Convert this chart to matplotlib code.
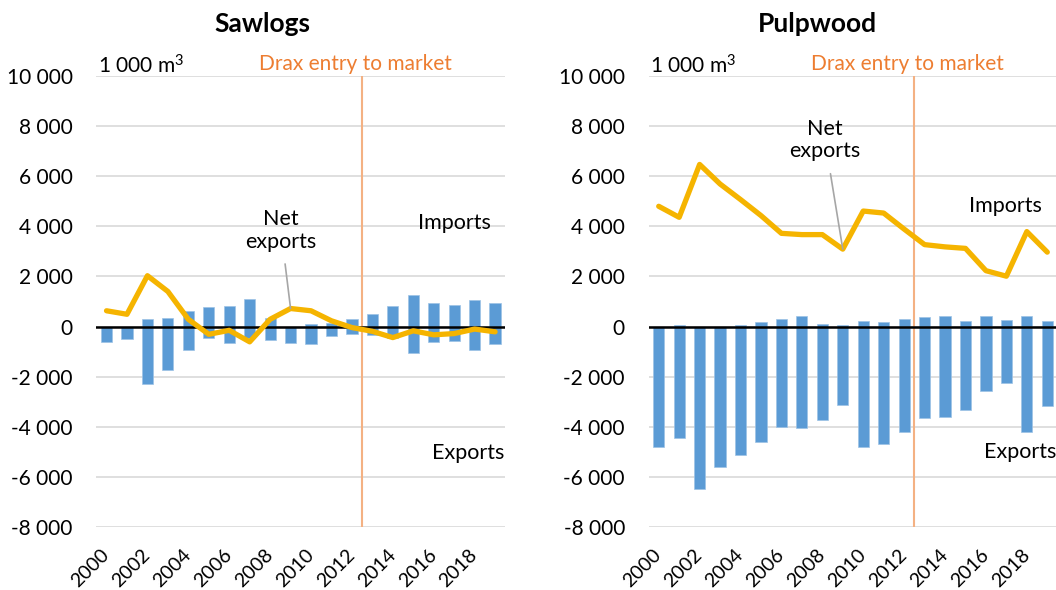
import numpy as np
import matplotlib
matplotlib.use("Agg")
import matplotlib.pyplot as plt

plt.rcParams['font.family'] = ['Lato', 'DejaVu Sans']
plt.rcParams['mathtext.fontset'] = 'custom'
plt.rcParams['mathtext.rm'] = 'Lato'
plt.rcParams['mathtext.default'] = 'rm'

years = list(range(2000, 2020))

# Sawlogs, 1 000 m3
saw_imports = [0, 0, 290, 360, 630, 790, 810, 1090, 330, 0,
               110, 160, 310, 490, 810, 1250, 960, 880, 1050, 930]
saw_exports = [-610, -480, -2280, -1730, -920, -470, -650, -470, -550, -670,
               -710, -370, -280, -330, -440, -1040, -600, -570, -930, -710]
saw_net = [630, 490, 2030, 1400, 290, -310, -150, -610, 290, 720,
           630, 230, -40, -190, -440, -170, -330, -280, -100, -210]

# Pulpwood, 1 000 m3
pulp_imports = [0, 70, 0, 0, 70, 200, 290, 440, 90, 70,
                230, 200, 310, 400, 440, 240, 410, 270, 430, 230]
pulp_exports = [-4800, -4450, -6470, -5610, -5120, -4590, -4000, -4050, -3730, -3130,
                -4800, -4670, -4190, -3650, -3610, -3350, -2590, -2250, -4190, -3160]
pulp_net = [4800, 4360, 6470, 5690, 5070, 4430, 3720, 3670, 3670, 3090,
            4610, 4530, 3890, 3270, 3180, 3120, 2230, 2010, 3790, 2970]

drax_pos = 12.5  # between 2012 and 2013

bar_col = '#5b9bd5'
line_col = '#f5b400'
drax_col = '#f4b183'
drax_txt = '#ed7d31'

fig = plt.figure(figsize=(10.56, 5.9), dpi=100)


def fmt(v):
    return '{:,}'.format(int(v)).replace(',', ' ')


def panel(ax, imports, exports, net, title, title_x, net_txt,
          imp_pos, exp_pos):
    x = np.arange(len(years))
    ax.bar(x, imports, width=0.55, color=bar_col, edgecolor='#9dc3e6',
           linewidth=0.5, zorder=2)
    ax.bar(x, exports, width=0.55, color=bar_col, edgecolor='#9dc3e6',
           linewidth=0.5, zorder=2)
    ax.axvline(drax_pos, color=drax_col, lw=1.5, zorder=3)
    ax.axhline(0, color='black', lw=1.8, zorder=3.5)
    ax.plot(x, net, color=line_col, lw=3.8, zorder=4,
            solid_capstyle='round', solid_joinstyle='round')

    ax.set_xlim(-0.5, len(years) - 0.5)
    ax.set_ylim(-8000, 10000)
    yt = np.arange(-8000, 10001, 2000)
    ax.set_yticks(yt)
    ax.set_yticklabels([fmt(v) for v in yt], fontsize=15)
    ax.yaxis.grid(True, color='#d9d9d9', lw=1.2, zorder=0)
    ax.set_axisbelow(True)
    ax.set_xticks(x[::2])
    ax.set_xticklabels([str(y) for y in years[::2]], fontsize=14,
                       rotation=45, ha='right', va='center',
                       rotation_mode='anchor')
    ax.tick_params(axis='y', length=0, pad=17)
    ax.tick_params(axis='x', length=0, pad=18)
    for s in ax.spines.values():
        s.set_visible(False)

    ax.annotate('1 000 m$^3$', xy=(0.003, 1.0), xycoords='axes fraction',
                xytext=(0, 2), textcoords='offset points',
                fontsize=15, ha='left', va='baseline')
    ax.annotate('Drax entry to market', xy=(drax_pos - 0.35, 1.0),
                xycoords=('data', 'axes fraction'),
                xytext=(0, 4.5), textcoords='offset points',
                fontsize=15, color=drax_txt, ha='center', va='baseline')

    ax.annotate('Net\nexports', xy=(9, net[9]), xytext=net_txt,
                textcoords='data', fontsize=15.5, ha='center', va='center',
                linespacing=1.15,
                arrowprops=dict(arrowstyle='-', color='#a6a6a6', lw=1.2,
                                shrinkA=7, shrinkB=0), zorder=5)
    ax.text(imp_pos[0], imp_pos[1], 'Imports', fontsize=15.5,
            ha='center', va='center')
    ax.text(exp_pos[0], exp_pos[1], 'Exports', fontsize=15.5,
            ha='center', va='center')
    fig.text(title_x, 1 - 24 / 590, title, fontsize=19, fontweight='bold',
             ha='center', va='center')


ax1 = fig.add_axes([96.3 / 1056, 63 / 590, 409 / 1056, 451 / 590])
panel(ax1, saw_imports, saw_exports, saw_net, 'Sawlogs', 262 / 1056,
      (8.53, 3840), (17.0, 4120), (17.68, -5040))

ax2 = fig.add_axes([648.5 / 1056, 63 / 590, 409 / 1056, 451 / 590])
panel(ax2, pulp_imports, pulp_exports, pulp_net, 'Pulpwood', 817 / 1056,
      (8.13, 7440), (16.96, 4800), (17.67, -5020))

fig.savefig('out.png', dpi=100)
